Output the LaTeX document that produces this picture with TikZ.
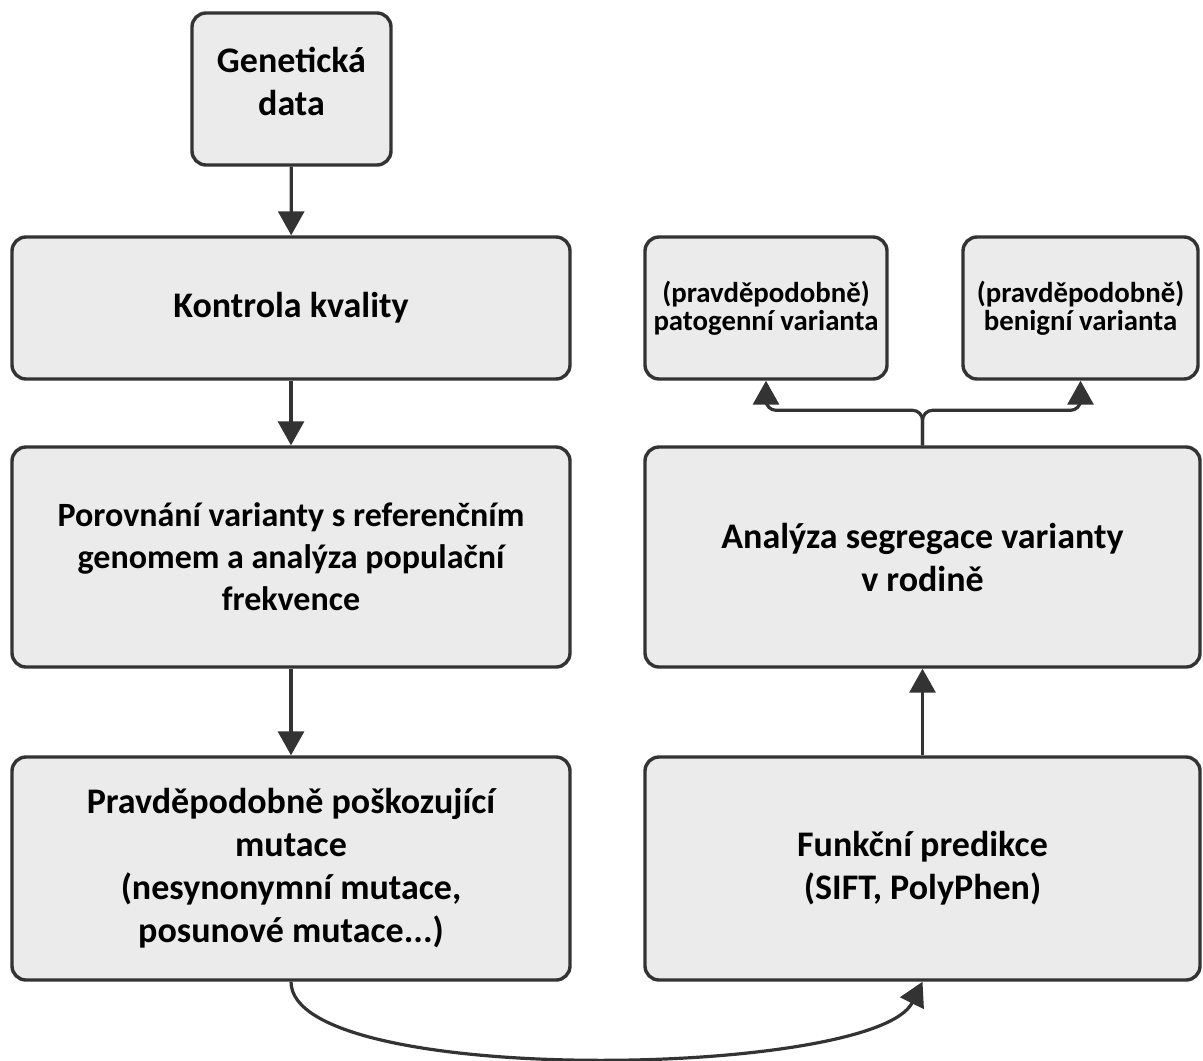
\documentclass[tikz,border=0pt]{standalone}
\usepackage{fontspec}
\setmainfont{Carlito}
\usetikzlibrary{arrows.meta}
\definecolor{boxfill}{HTML}{EBEBEB}
\definecolor{boxline}{HTML}{333333}

\begin{document}
\begin{tikzpicture}[x=0.5pt, y=-0.5pt, font=\bfseries\fontsize{18}{21.5}\selectfont,
    box/.style={draw=boxline, fill=boxfill, line width=1.7pt, rounded corners=7pt, align=center, inner sep=0pt},
    smallbox/.style={box, font=\bfseries\fontsize{14.4}{13.8}\selectfont},
    arr/.style={draw=boxline, line width=1.6pt, -{Triangle[length=12pt, width=13pt]}}]
    \useasboundingbox (0,0) rectangle (1203,1060);
    % left column
    \node[box, minimum width=99.5pt, minimum height=76pt] (gen) at (291.5,89) {Genetická\\data\\[-14pt]\mbox{}};
    \node[box, minimum width=279pt, minimum height=71pt] (kval) at (291,308) {Kontrola kvality};
    \node[box, minimum width=279pt, minimum height=110pt, font=\bfseries\fontsize{17}{21}\selectfont] (por) at (291,557) {Porovnání varianty s referenčním\\genomem a analýza populační\\frekvence};
    \node[box, minimum width=279pt, minimum height=111.5pt] (mut) at (291,868.5) {Pravděpodobně poškozující\\mutace\\(nesynonymní mutace,\\posunové mutace...)};
    % right column
    \node[box, minimum width=277.5pt, minimum height=111.5pt] (fun) at (922.5,868.5) {Funkční predikce\\(SIFT, PolyPhen)};
    \node[box, minimum width=277.5pt, minimum height=110pt] (seg) at (922.5,557) {Analýza segregace varianty\\v rodině};
    \node[smallbox, minimum width=121pt, minimum height=71pt] (pat) at (766,308) {(pravděpodobně)\\patogenní varianta};
    \node[smallbox, minimum width=117.5pt, minimum height=71pt] (ben) at (1080.5,308) {(pravděpodobně)\\benigní varianta};
    % arrows
    \draw[arr] (gen) -- (kval);
    \draw[arr] (kval) -- (por);
    \draw[arr] (por) -- (mut);
    \draw[arr] (mut.south) .. controls (291,1088) and (875,1078) .. (fun.south);
    \draw[arr] (fun) -- (seg);
    \draw[arr, rounded corners=5pt] (seg.north) -- ++(0,-35) -| (pat.south);
    \draw[arr, rounded corners=5pt] (seg.north) -- ++(0,-35) -| (ben.south);
\end{tikzpicture}
\end{document}
